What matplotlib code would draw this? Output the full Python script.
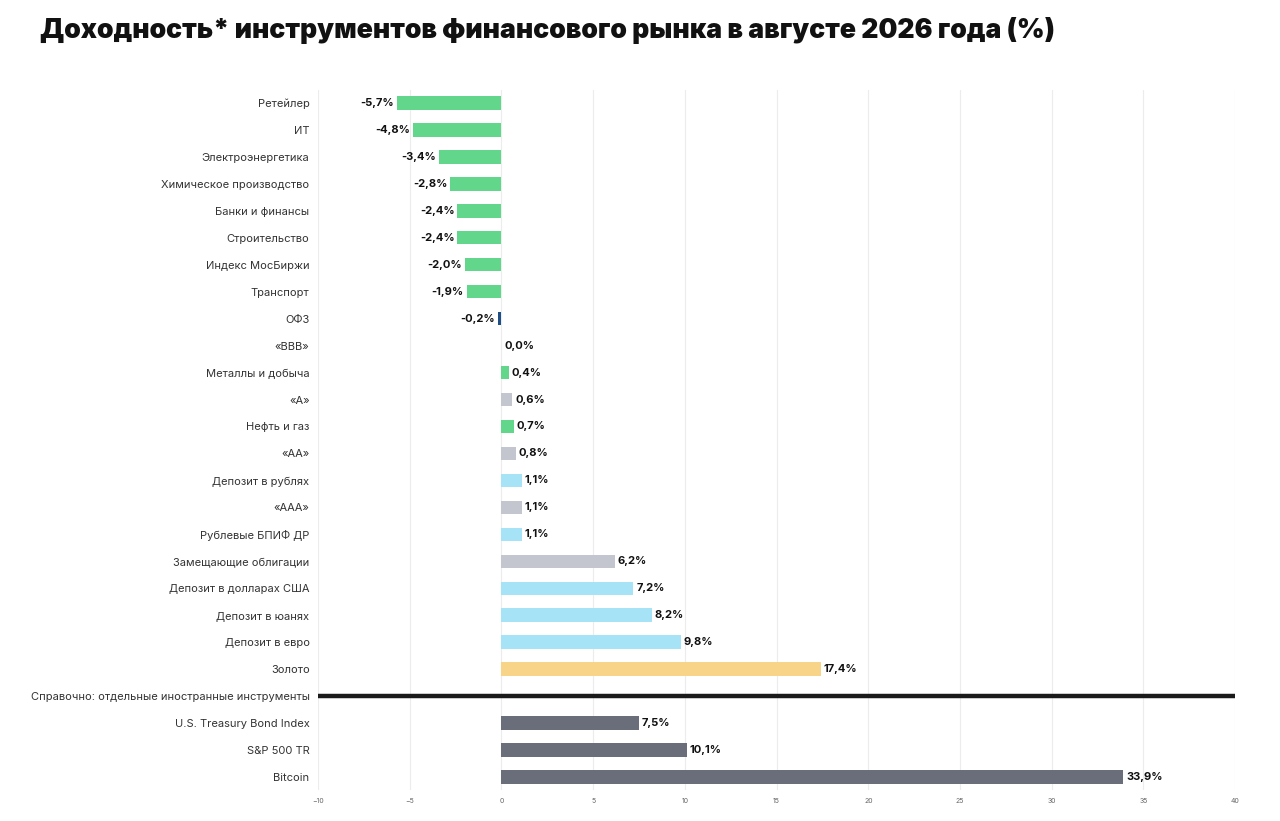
import matplotlib
matplotlib.use("Agg")
import matplotlib.pyplot as plt

plt.rcParams['font.family'] = ['Inter', 'DejaVu Sans']

# rows top to bottom; None marks the separator row
labels = ['Ретейлер', 'ИТ', 'Электроэнергетика', 'Химическое производство',
          'Банки и финансы', 'Строительство', 'Индекс МосБиржи', 'Транспорт',
          'ОФЗ', '«ВВВ»', 'Металлы и добыча', '«А»', 'Нефть и газ', '«АА»',
          'Депозит в рублях', '«ААА»', 'Рублевые БПИФ ДР', 'Замещающие облигации',
          'Депозит в долларах США', 'Депозит в юанях', 'Депозит в евро', 'Золото',
          'Справочно: отдельные иностранные инструменты',
          'U.S. Treasury Bond Index', 'S&P 500 TR', 'Bitcoin']
values = [-5.7, -4.8, -3.4, -2.8, -2.4, -2.4, -2.0, -1.9, -0.2, 0.0, 0.4, 0.6,
          0.7, 0.8, 1.1, 1.1, 1.1, 6.2, 7.2, 8.2, 9.8, 17.4, None, 7.5, 10.1, 33.9]
groups = ['sector'] * 8 + ['ofz', 'bond', 'sector', 'bond', 'sector', 'bond',
          'dep', 'bond', 'dep', 'bond', 'dep', 'dep', 'dep', 'gold', 'sep',
          'foreign', 'foreign', 'foreign']

colors = {'sector': '#62d68a', 'ofz': '#1d4f86', 'bond': '#c4c6cf',
          'dep': '#a7e3f6', 'gold': '#f8d488', 'foreign': '#6a6e7a'}

fig = plt.figure(figsize=(12.8, 8.21), dpi=100)
ax = fig.add_axes([0.2484, 0.0378, 0.7166, 0.8526])

for i, (v, g) in enumerate(zip(values, groups)):
    if v is None:
        ax.axhline(i, color='#1a1a1a', lw=3.2, zorder=3)
        continue
    ax.barh(i, v, height=0.5, color=colors[g], zorder=2)
    txt = f'{v:.1f}%'.replace('.', ',')
    if v < 0:
        ax.text(v - 0.15, i, txt, ha='right', va='center', fontsize=8,
                fontweight='bold', color='#111111')
    else:
        ax.text(v + 0.15 if v > 0 else 0.15, i, txt, ha='left', va='center',
                fontsize=8, fontweight='bold', color='#111111')

ax.set_xlim(-10, 40)
ax.set_ylim(len(labels) - 0.52, -0.48)
ax.set_xticks(range(-10, 41, 5))
ax.set_yticks(range(len(labels)))
ax.set_yticklabels(labels, fontsize=8, color='#333333')
ax.tick_params(axis='x', labelsize=5, colors='#666666', length=0, pad=6)
ax.tick_params(axis='y', length=0, pad=6)
ax.grid(axis='x', color='#ececec', lw=0.8, zorder=0)
for s in ax.spines.values():
    s.set_visible(False)

fig.text(0.031, 0.963, 'Доходность* инструментов финансового рынка в августе 2026 года (%)',
         fontsize=19.2, fontweight='black', color='#111111', va='center')

fig.savefig('out.png', dpi=100, facecolor='white')
